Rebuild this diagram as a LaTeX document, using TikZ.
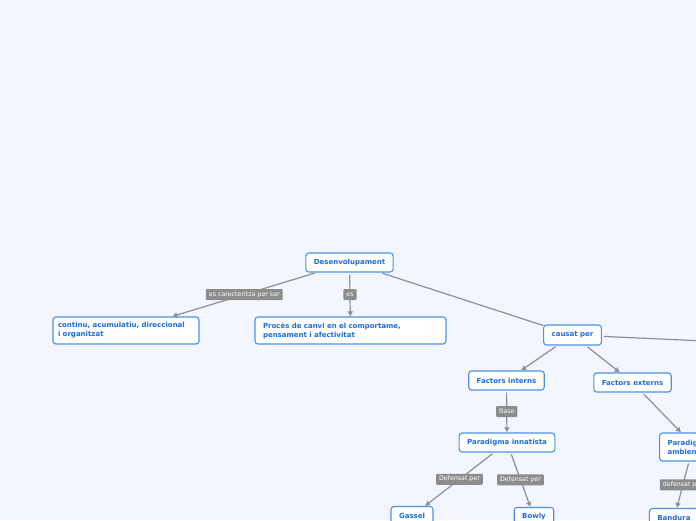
\documentclass[tikz,border=0pt]{standalone}
\usepackage{fontspec}
\setmainfont{DejaVu Sans}
\usepackage{tikz}
\usetikzlibrary{arrows.meta, positioning}
\definecolor{mapbg}{HTML}{F3F6FE}
\definecolor{topicblue}{HTML}{4A92E6}
\definecolor{topictext}{HTML}{1B6ED4}
\definecolor{linkgray}{HTML}{8E8E98}
\definecolor{labelgray}{HTML}{8C8C8C}

\begin{document}
\begin{tikzpicture}[
    x=1pt, y=-1pt,
    topic/.style={rectangle, rounded corners=3pt, draw=topicblue, fill=white, line width=1.1pt, text=topictext, font=\fontsize{7}{9}\selectfont\bfseries, minimum height=19pt, inner xsep=8pt, inner ysep=2pt},
    longtopic/.style={topic, align=left, minimum height=27pt},
    link/.style={draw=linkgray, line width=1.2pt, shorten <=2pt},
    arrow/.style={link, -{Latex[length=5pt, width=6pt]}},
    linklabel/.style={rectangle, rounded corners=1pt, fill=labelgray, text=white, font=\fontsize{6.3}{7}\selectfont, inner xsep=3pt, inner ysep=1.5pt, minimum height=11pt}
]

\useasboundingbox (0,0) rectangle (696,520);
\fill[mapbg] (0,0) rectangle (696,520);
\clip (0,0) rectangle (696,520);

% topics
\node[topic] (desen) at (349.5,262.5) {Desenvolupament};
\node[longtopic, text width=136pt, inner xsep=5pt] (cont) at (126,330.5) {continu, acumulatiu, direccional\\i organitzat};
\node[longtopic, text width=175pt] (proc) at (350.5,330.5) {Procès de canvi en el comportame,\\pensament i afectivitat};
\node[topic, minimum height=20pt] (causat) at (572.5,335) {causat per};
\coordinate (fora) at (770,344);
\node[topic] (fint) at (506.5,380.5) {Factors interns};
\node[topic] (fext) at (632.5,382.5) {Factors externs};
\node[longtopic, minimum height=28pt, anchor=west] (pamb) at (659,447) {Paradigma\\ambientalista};
\node[topic] (pinn) at (507,442.5) {Paradigma innatista};
\node[topic] (gassel) at (412,516) {Gassel};
\node[topic] (bowly) at (534,517) {Bowly};
\node[topic] (bandura) at (674,518) {Bandura};

% connectors
\draw[arrow] (desen) -- node[linklabel] {es carecteritza per ser} (cont);
\draw[arrow] (desen) -- node[linklabel] {es} (proc);
\draw[link] (desen) -- (causat);
\draw[link] (causat) -- (fora);
\draw[arrow] (causat) -- (fint);
\draw[arrow] (causat) -- (fext);
\draw[arrow] (fint) -- node[linklabel] {Base} (pinn);
\draw[arrow] (fext) -- ([xshift=22pt]pamb.north west);
\draw[arrow] (pinn) -- node[linklabel] {Defensat per} (gassel);
\draw[arrow] (pinn) -- node[linklabel] {Defensat per} (bowly);
\draw[arrow] ([xshift=30pt]pamb.south west) -- node[linklabel] {defensat per} ([xshift=28pt]bandura.north west);

\end{tikzpicture}
\end{document}
